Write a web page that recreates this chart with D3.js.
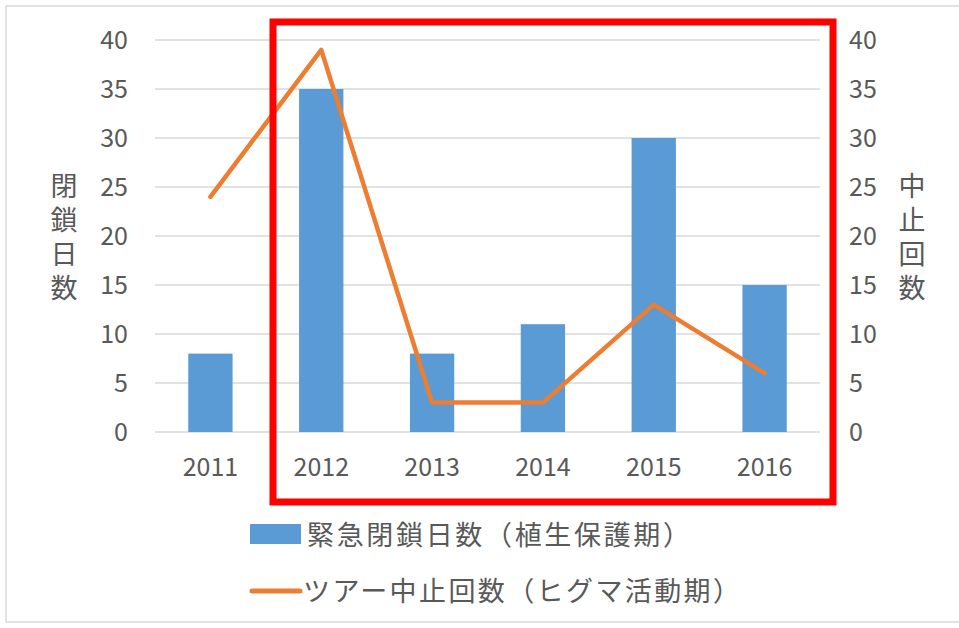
<!DOCTYPE html>
<html>
<head>
<meta charset="utf-8">
<script src="https://cdn.jsdelivr.net/npm/d3@7"></script>
<style>
  body { margin: 0; background: #fff; }
  text { font-family: "Noto Sans CJK JP", "Noto Sans", sans-serif; fill: #595959; }
</style>
</head>
<body>
<div id="chart"></div>
<script>
/* data */
const years = ["2011", "2012", "2013", "2014", "2015", "2016"]
const closureDays = [8, 35, 8, 11, 30, 15]
const tourStops = [24, 39, 3, 3, 13, 6]
const yTicks = [0, 5, 10, 15, 20, 25, 30, 35, 40]
const barLabel = "緊急閉鎖日数（植生保護期）"
const lineLabel = "ツアー中止回数（ヒグマ活動期）"
const leftTitle = "閉鎖日数"
const rightTitle = "中止回数"

const width = 959
const height = 628
const margin = {top: 40, right: 139, bottom: 196, left: 155}

const svg = d3.select("#chart").append("svg")
    .attr("width", width)
    .attr("height", height)

// outer frame
svg.append("rect")
    .attr("x", 6).attr("y", 6)
    .attr("width", width + 10).attr("height", height - 12)
    .attr("fill", "none")
    .attr("stroke", "#d9d9d9")
    .attr("stroke-width", 1.5)

const x = d3.scaleBand()
    .domain(years)
    .range([margin.left, width - margin.right])
    .paddingInner(0.6)
    .paddingOuter(0.3)

const yLeft = d3.scaleLinear()
    .domain([0, 40])
    .range([height - margin.bottom, margin.top])

const yRight = d3.scaleLinear()
    .domain([0, 40])
    .range([height - margin.bottom, margin.top])

// gridlines
svg.append("g")
  .selectAll("line")
  .data(yTicks)
  .join("line")
    .attr("x1", margin.left)
    .attr("x2", width - margin.right)
    .attr("y1", d => yLeft(d))
    .attr("y2", d => yLeft(d))
    .attr("stroke", "#d9d9d9")
    .attr("stroke-width", 1.5)

const styleTicks = sel => sel.selectAll("text")
    .attr("font-size", 25)
    .attr("fill", "#595959")
    .style("font-family", "'Noto Sans CJK JP', sans-serif")

// left axis
const leftAxis = svg.append("g")
    .attr("transform", `translate(${margin.left - 27},0)`)
    .call(d3.axisLeft(yLeft).tickValues(yTicks).tickSize(0).tickPadding(0))
leftAxis.select(".domain").remove()
styleTicks(leftAxis)

// right axis
const rightAxis = svg.append("g")
    .attr("transform", `translate(${width - margin.right + 29},0)`)
    .call(d3.axisRight(yRight).tickValues(yTicks).tickSize(0).tickPadding(0))
rightAxis.select(".domain").remove()
styleTicks(rightAxis)

// x axis labels
const xAxis = svg.append("g")
    .attr("transform", `translate(0,${height - margin.bottom + 26})`)
    .call(d3.axisBottom(x).tickSize(0).tickPadding(0))
xAxis.select(".domain").remove()
styleTicks(xAxis)
xAxis.selectAll("text").attr("dy", "0.71em")

// bars
svg.append("g")
  .selectAll("rect")
  .data(closureDays)
  .join("rect")
    .attr("x", (d, i) => x(years[i]))
    .attr("y", d => yLeft(d))
    .attr("width", x.bandwidth())
    .attr("height", d => yLeft(0) - yLeft(d))
    .attr("fill", "#5b9bd5")

// line
const line = d3.line()
    .x((d, i) => x(years[i]) + x.bandwidth() / 2)
    .y(d => yRight(d))

svg.append("path")
    .datum(tourStops)
    .attr("d", line)
    .attr("fill", "none")
    .attr("stroke", "#ed7d31")
    .attr("stroke-width", 4.5)
    .attr("stroke-linejoin", "round")
    .attr("stroke-linecap", "round")

// axis titles, written vertically
const vTitle = (label, xPos) => svg.append("text")
    .attr("x", xPos)
    .attr("y", 172)
    .attr("font-size", 27)
    .style("writing-mode", "vertical-rl")
    .style("letter-spacing", "7px")
    .text(label)

vTitle(leftTitle, 64)
vTitle(rightTitle, 912)

// red highlight box
svg.append("rect")
    .attr("x", 273).attr("y", 22)
    .attr("width", 560).attr("height", 480)
    .attr("fill", "none")
    .attr("stroke", "#ff0000")
    .attr("stroke-width", 7)

// legend
const legend = svg.append("g")
legend.append("rect")
    .attr("x", 250).attr("y", 524)
    .attr("width", 51).attr("height", 20)
    .attr("fill", "#5b9bd5")
legend.append("text")
    .attr("x", 307).attr("y", 545)
    .attr("font-size", 27)
    .attr("textLength", 383)
    .text(barLabel)

legend.append("line")
    .attr("x1", 252).attr("x2", 300)
    .attr("y1", 591).attr("y2", 591)
    .attr("stroke", "#ed7d31")
    .attr("stroke-width", 5)
    .attr("stroke-linecap", "round")
legend.append("text")
    .attr("x", 303).attr("y", 601)
    .attr("font-size", 27)
    .attr("textLength", 437)
    .text(lineLabel)
</script>
</body>
</html>
